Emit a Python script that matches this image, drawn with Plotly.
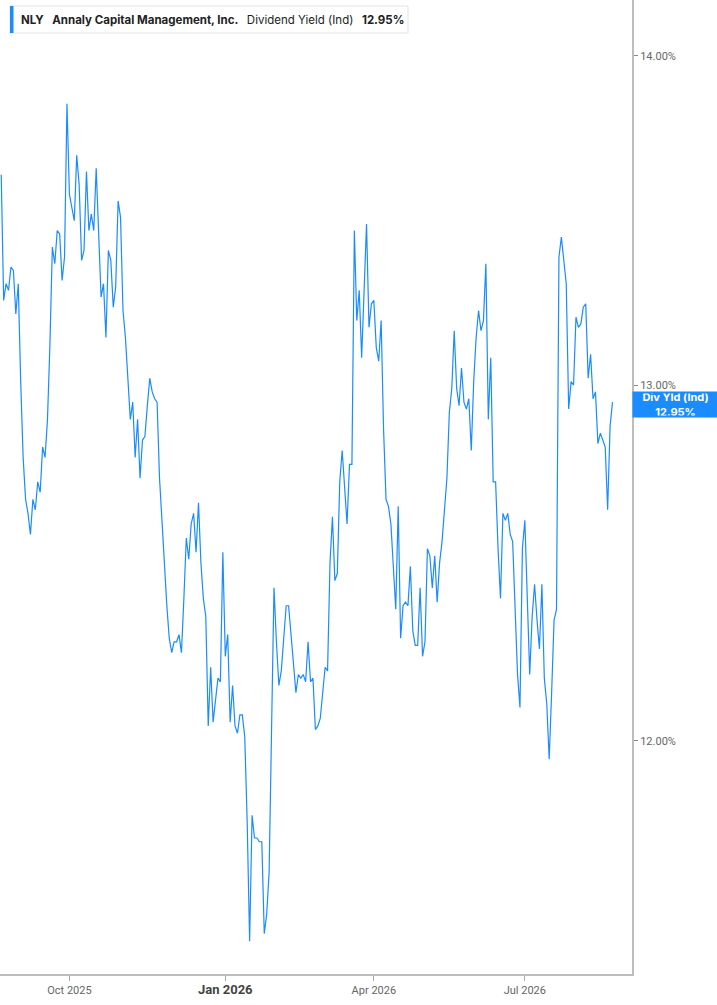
import numpy as np
import pandas as pd
import plotly.graph_objects as go

# NLY indicated dividend yield (%), one value per trading day, Aug 2025 -> Aug 2026
yield_aug_oct = [13.63, 13.25, 13.30, 13.28, 13.35, 13.34, 13.21, 13.30, 13.01, 12.79,
                 12.67, 12.63, 12.57, 12.67, 12.64, 12.72, 12.69, 12.82, 12.79, 12.90,
                 13.12, 13.41, 13.36, 13.46, 13.45, 13.31, 13.38, 13.85, 13.57, 13.53,
                 13.49, 13.69, 13.60, 13.37, 13.40, 13.64, 13.46, 13.51, 13.46, 13.65,
                 13.46, 13.26, 13.30, 13.14, 13.40, 13.37, 13.23, 13.29, 13.55, 13.50,
                 13.22, 13.14, 13.02, 12.90, 12.95, 12.79, 12.90, 12.73, 12.84, 12.85,
                 12.94, 13.02, 12.98, 12.96, 12.95, 12.73, 12.61]
yield_nov_jan = [12.48, 12.37, 12.28, 12.24, 12.27, 12.27, 12.29, 12.24, 12.39, 12.56,
                 12.50, 12.60, 12.63, 12.52, 12.66, 12.49, 12.39, 12.34, 12.04, 12.20,
                 12.05, 12.11, 12.17, 12.16, 12.52, 12.23, 12.29, 12.05, 12.15, 12.04,
                 12.02, 12.07, 12.07, 12.01, 11.78, 11.47, 11.80, 11.74, 11.74, 11.73,
                 11.73, 11.49, 11.54, 11.65, 12.06, 12.42, 12.27, 12.15, 12.19, 12.27,
                 12.37, 12.37, 12.28, 12.21, 12.13, 12.18, 12.17, 12.18, 12.16, 12.27,
                 12.16]
yield_feb_may = [12.17, 12.03, 12.04, 12.06, 12.14, 12.20, 12.19, 12.49, 12.62, 12.44,
                 12.46, 12.72, 12.81, 12.70, 12.60, 12.77, 12.77, 13.46, 13.19, 13.28,
                 13.08, 13.28, 13.48, 13.17, 13.24, 13.25, 13.11, 13.07, 13.19, 12.87,
                 12.67, 12.65, 12.60, 12.48, 12.36, 12.65, 12.28, 12.37, 12.38, 12.37,
                 12.48, 12.30, 12.26, 12.26, 12.42, 12.23, 12.27, 12.53, 12.51, 12.42,
                 12.51, 12.38, 12.49, 12.55, 12.63, 12.73, 12.92, 12.99, 13.16, 12.99,
                 12.94, 13.05]
yield_may_aug = [12.95, 12.93, 12.96, 12.81, 13.01, 13.14, 13.22, 13.16, 13.19, 13.36,
                 12.90, 13.08, 12.72, 12.72, 12.53, 12.39, 12.63, 12.61, 12.63, 12.57,
                 12.55, 12.37, 12.18, 12.09, 12.53, 12.61, 12.37, 12.18, 12.34, 12.43,
                 12.33, 12.25, 12.43, 12.17, 12.10, 11.95, 12.13, 12.33, 12.36, 13.38,
                 13.44, 13.36, 13.30, 12.93, 13.01, 13.00, 13.20, 13.17, 13.18, 13.23,
                 13.24, 13.02, 13.09, 12.96, 12.98, 12.83, 12.86, 12.84, 12.82, 12.64,
                 12.88, 12.95]

div_yield = yield_aug_oct + yield_nov_jan + yield_feb_may + yield_may_aug

holidays = ["2025-09-01", "2025-11-27", "2025-12-25", "2026-01-01", "2026-01-19",
            "2026-02-16", "2026-04-03", "2026-05-25", "2026-06-19", "2026-07-03"]
dates = pd.bdate_range("2025-08-21", periods=len(div_yield), freq="C", holidays=holidays)

tick_dates = ["2025-10-01", "2026-01-02", "2026-04-01", "2026-07-01"]
tick_text = ["Oct 2025", "<span style='font-size:13px;color:#444'><b>Jan 2026</b></span>",
             "Apr 2026", "Jul 2026"]
y_ticks = [12, 13, 14]
y_tick_text = ["12.00%", "13.00%", "14.00%"]

blue = "#1a8cff"

fig = go.Figure()
fig.add_trace(go.Scatter(x=dates, y=div_yield, mode="lines",
                         line=dict(color=blue, width=1.2),
                         hoverinfo="skip", showlegend=False))

fig.update_layout(width=717, height=1005,
                  margin=dict(l=0, r=85, t=0, b=31),
                  plot_bgcolor="white", paper_bgcolor="white",
                  font=dict(family="Roboto", color="#666"),
                  showlegend=False)

fig.update_xaxes(range=[dates[0] - pd.Timedelta(hours=12),
                        dates[-1] + pd.offsets.BDay(8)],
                 rangebreaks=[dict(bounds=["sat", "mon"]), dict(values=holidays)],
                 tickvals=tick_dates, ticktext=tick_text,
                 ticks="outside", ticklen=5, tickcolor="#aaa",
                 tickfont=dict(size=11, color="#666"),
                 showline=True, linewidth=2, linecolor="#bdbdbd",
                 showgrid=False, zeroline=False)

fig.update_yaxes(type="log", side="right",
                 range=[np.log10(11.386), np.log10(14.177)],
                 tickvals=y_ticks, ticktext=y_tick_text,
                 ticks="outside", ticklen=4, tickcolor="#888",
                 tickfont=dict(size=11, color="#666"),
                 showline=True, linewidth=2, linecolor="#bdbdbd",
                 showgrid=False, zeroline=False)

# header box top-left (box + blue edge as shapes, text as annotation)
fig.add_shape(type="rect", xref="paper", yref="paper",
              x0=10 / 632, x1=408 / 632, y0=1 - 33 / 974, y1=1 - 6 / 974,
              fillcolor="white", line=dict(color="#e3e3e3", width=1))
fig.add_shape(type="rect", xref="paper", yref="paper",
              x0=10 / 632, x1=13.5 / 632, y0=1 - 33 / 974, y1=1 - 6 / 974,
              fillcolor=blue, line=dict(width=0))

gap = "\u00a0\u00a0\u2009"
header = ("<b>NLY</b>" + gap + "<b>Annaly Capital Management, Inc.</b>" + gap
          + "Dividend Yield (Ind)" + gap + "<b>" + str(div_yield[-1]) + "%</b>")
fig.add_annotation(xref="paper", yref="paper", x=19 / 632, y=1 - 19.5 / 974,
                   xanchor="left", yanchor="middle", showarrow=False,
                   text=header, align="left",
                   font=dict(family="Inter", size=11.5, color="#222"))

# last value tag on the right axis
fig.add_annotation(xref="paper", yref="y", x=1, y=np.log10(div_yield[-1]),
                   xanchor="left", yanchor="middle", showarrow=False, yshift=-2,
                   text="<b>Div Yld (Ind)</b><br><b>" + str(div_yield[-1]) + "%</b>",
                   font=dict(family="Inter", size=11, color="white"),
                   bgcolor=blue, width=82, height=22, borderpad=1.5)

fig.write_html("out.html", config={"displayModeBar": False},
               post_script="document.body.style.margin='0px';")
